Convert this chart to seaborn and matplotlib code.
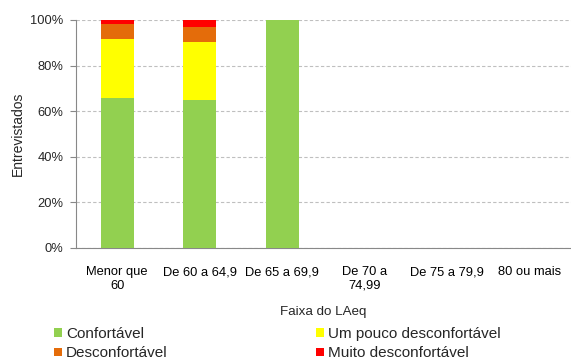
import matplotlib
matplotlib.use("Agg")
import matplotlib.pyplot as plt
from matplotlib.patches import Patch
from matplotlib.ticker import PercentFormatter
import numpy as np
import pandas as pd
import seaborn as sns

# Noise-band categories (LAeq ranges)
categories = ["Menor que\n60", "De 60 a 64,9", "De 65 a 69,9",
              "De 70 a\n74,99", "De 75 a 79,9", "80 ou mais"]

# Share of respondents per comfort level (%)
confortavel = [65.7, 64.9, 100.0, np.nan, np.nan, np.nan]
um_pouco = [25.8, 25.6, 0.0, np.nan, np.nan, np.nan]
desconfortavel = [6.7, 6.3, 0.0, np.nan, np.nan, np.nan]
muito = [1.8, 3.2, 0.0, np.nan, np.nan, np.nan]

series_names = ["Confortável", "Um pouco desconfortável",
                "Desconfortável", "Muito desconfortável"]
series_values = [confortavel, um_pouco, desconfortavel, muito]
series_colors = ["#92D050", "#FFFF00", "#E46C0A", "#FF0000"]

sns.set_theme(style="white")
plt.rcParams["font.family"] = ["Liberation Sans", "DejaVu Sans"]

fig = plt.figure(figsize=(5.71, 3.61), dpi=100)
ax = fig.add_axes([76 / 571, 1 - 248 / 361, 1 - 76 / 571, 228 / 361])

# Cumulative stacks, drawn from the top layer down so each segment shows
df = pd.DataFrame({"faixa": categories})
cum = np.zeros(len(categories))
for name, vals in zip(series_names, series_values):
    arr = np.array(vals, dtype=float)
    cum = cum + np.nan_to_num(arr)
    df[name] = np.where(np.isnan(arr), np.nan, cum / 100.0)

for name, color in reversed(list(zip(series_names, series_colors))):
    sns.barplot(data=df, x="faixa", y=name, order=categories, color=color,
                width=0.4, linewidth=0, saturation=1, ax=ax, zorder=3)

ax.set_ylim(0, 1)
ax.set_xlim(-0.5, 5.45)
ax.yaxis.set_major_formatter(PercentFormatter(1.0, decimals=0))
ax.set_yticks(np.arange(0, 1.01, 0.2))
ax.grid(axis="y", color="#BFBFBF", linestyle=(0, (3, 2)), linewidth=0.8, zorder=0)
ax.set_axisbelow(True)

for side in ["top", "right"]:
    ax.spines[side].set_visible(False)
for side in ["left", "bottom"]:
    ax.spines[side].set_color("#888888")
    ax.spines[side].set_linewidth(0.8)

# Tick marks sit on category boundaries
ax.set_xticks(np.arange(6))
ax.set_xticklabels(categories)
ax.tick_params(axis="x", length=0, pad=13, labelsize=9.3, colors="black")
ax.set_xticks(np.arange(-0.5, 6, 1), minor=True)
ax.tick_params(axis="x", which="minor", length=4, color="#888888", width=0.8)
ax.tick_params(axis="y", length=4, color="#888888", width=0.8, pad=5,
               labelsize=9.3, left=True)

ax.set_xlabel("Faixa do LAeq", fontsize=9.6, labelpad=10)
ax.set_ylabel("Entrevistados", fontsize=10)
ax.yaxis.set_label_coords(-51 / 495, 0.5)

handles = [Patch(facecolor=c, edgecolor="none") for c in series_colors]
order = [0, 2, 1, 3]
fig.legend([handles[i] for i in order], [series_names[i] for i in order],
           ncol=2, loc="upper left", bbox_to_anchor=(54 / 571, 1 - 327 / 361),
           frameon=False, fontsize=11, handlelength=0.5, handleheight=0.5,
           handletextpad=0.3, columnspacing=9.7, labelspacing=0.35,
           borderpad=0, borderaxespad=0)

fig.savefig("out.png", dpi=100)
